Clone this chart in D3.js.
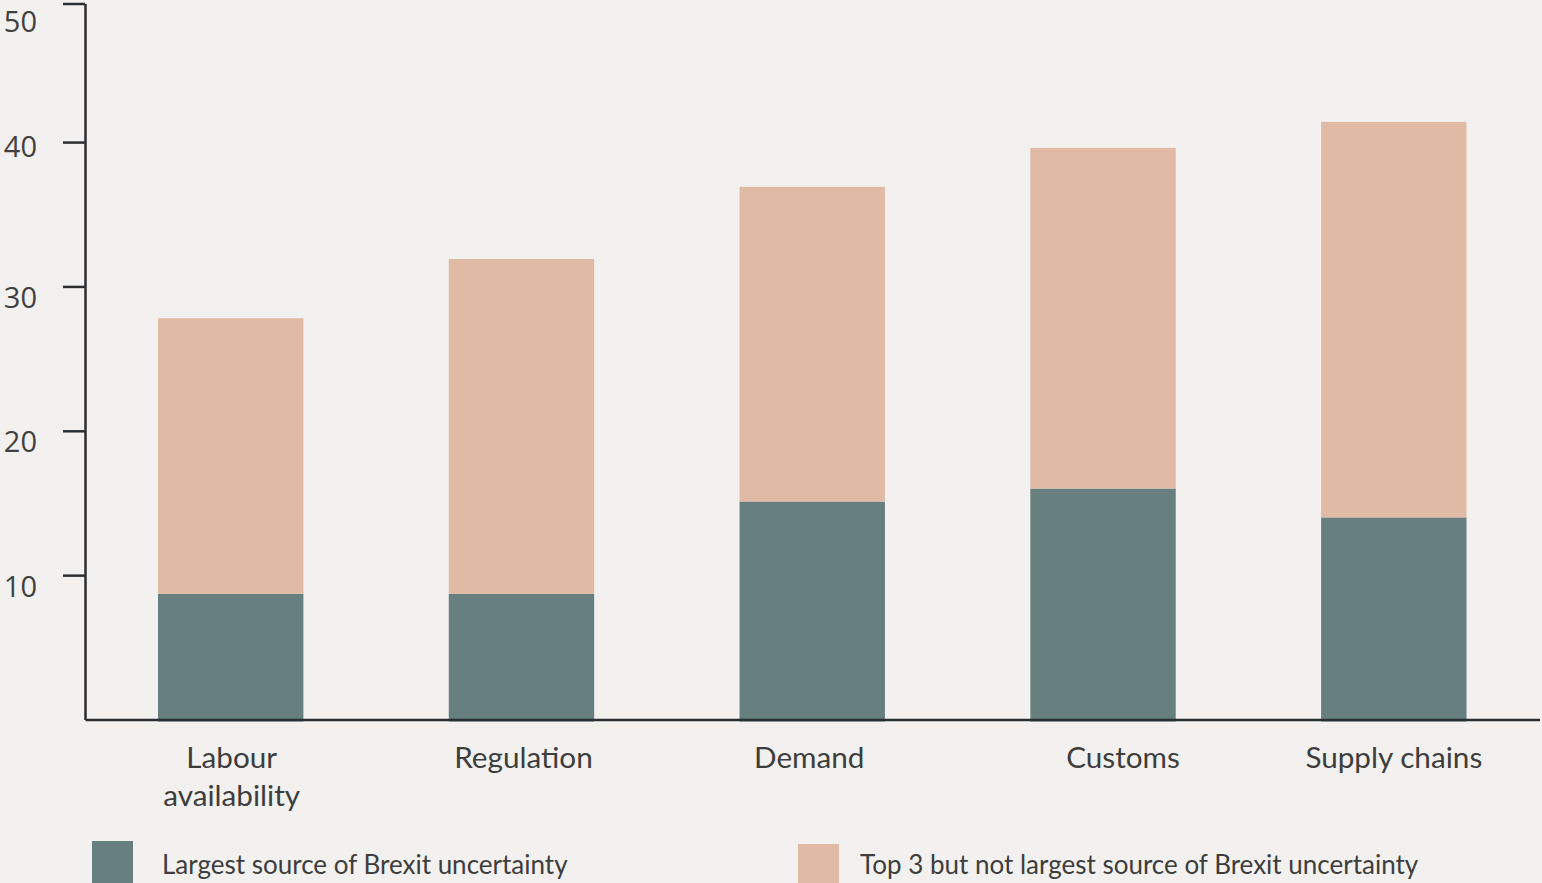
<!DOCTYPE html>
<html>
<head>
<meta charset="utf-8">
<script src="https://cdn.jsdelivr.net/npm/d3@7"></script>
<style>
  html, body { margin: 0; padding: 0; background: #f2f1ef; }
  svg { display: block; }
</style>
</head>
<body>
<svg id="chart" width="1542" height="883"></svg>
<script>
// ---- data ----
const categories = ["Labour availability", "Regulation", "Demand", "Customs", "Supply chains"];
const categoryLines = [["Labour", "availability"], ["Regulation"], ["Demand"], ["Customs"], ["Supply chains"]];
const largest = [8.7, 8.7, 15.1, 16.0, 14.0];
const top3NotLargest = [19.1, 23.2, 21.8, 23.6, 27.4];
const yTicks = [10, 20, 30, 40, 50];
const seriesNames = ["Largest source of Brexit uncertainty", "Top 3 but not largest source of Brexit uncertainty"];

// ---- layout / styles ----
const colors = ["#677f7e", "#e0baa5"];
const axisColor = "#2b2e31";
const textColor = "#3d3d3d";
const labelDx = [1, 2, -3, 20, 0];

const rows = categories.map((c, i) => ({ cat: c, s0: largest[i], s1: top3NotLargest[i] }));
const stack = d3.stack().keys(["s0", "s1"]);
const layers = stack(rows);

const svg = d3.select("#chart");
svg.append("rect").attr("width", 1542).attr("height", 883).attr("fill", "#f2f1ef");

const x = d3.scaleBand().domain(categories).range([85, 1539.5]).paddingInner(0.5).paddingOuter(0.251);
const y = d3.scaleLinear().domain([0, 49.6]).range([719.5, 3.5]).clamp(true);

// bars
svg.append("g").selectAll("g").data(layers).join("g")
  .attr("fill", (d, i) => colors[i])
  .selectAll("rect").data(d => d).join("rect")
  .attr("x", d => x(d.data.cat))
  .attr("width", x.bandwidth())
  .attr("y", d => y(d[1]))
  .attr("height", (d) => y(d[0]) - y(d[1]) + (d[0] === 0 ? 2 : 0));

// y axis
const yAxis = svg.append("g").attr("transform", "translate(85,0)")
  .call(d3.axisLeft(y).tickValues(yTicks).tickSizeInner(22).tickSizeOuter(0).tickPadding(26));
yAxis.selectAll("path, line").attr("stroke", axisColor).attr("stroke-width", 2.5);
yAxis.selectAll("text")
  .attr("dy", d => d === 50 ? "0.95em" : (d === 40 ? "0.5em" : "0.73em"))
  .attr("fill", "#404040")
  .style("font-family", "'Open Sans', sans-serif")
  .style("font-size", "29px");

// x axis baseline
const xAxis = svg.append("g").attr("transform", "translate(0,719.5)")
  .call(d3.axisBottom(x).tickSize(0).tickFormat(""));
xAxis.select(".domain").attr("stroke", axisColor).attr("stroke-width", 2.5);

// category labels
const lab = svg.append("g").selectAll("text").data(categories).join("text")
  .attr("x", (d, i) => x(d) + x.bandwidth() / 2 + labelDx[i])
  .attr("y", 768)
  .attr("text-anchor", "middle")
  .attr("fill", textColor)
  .style("font-family", "Lato, sans-serif")
  .style("font-size", "29.7px");
lab.selectAll("tspan").data((d, i) => categoryLines[i]).join("tspan")
  .attr("x", function () { return d3.select(this.parentNode).attr("x"); })
  .attr("dy", (d, i) => i === 0 ? 0 : 38)
  .text(d => d);

// legend
const legendX = [92, 798];
const legendY = [841, 844];
const leg = svg.append("g").selectAll("g").data(seriesNames).join("g");
leg.append("rect")
  .attr("x", (d, i) => legendX[i]).attr("y", (d, i) => legendY[i])
  .attr("width", 41).attr("height", 50)
  .attr("fill", (d, i) => colors[i]);
leg.append("text")
  .attr("x", (d, i) => legendX[i] + (i === 0 ? 70 : 62))
  .attr("y", 874)
  .attr("fill", textColor)
  .style("font-family", "Lato, sans-serif")
  .style("font-size", "26px")
  .text(d => d);
</script>
</body>
</html>
